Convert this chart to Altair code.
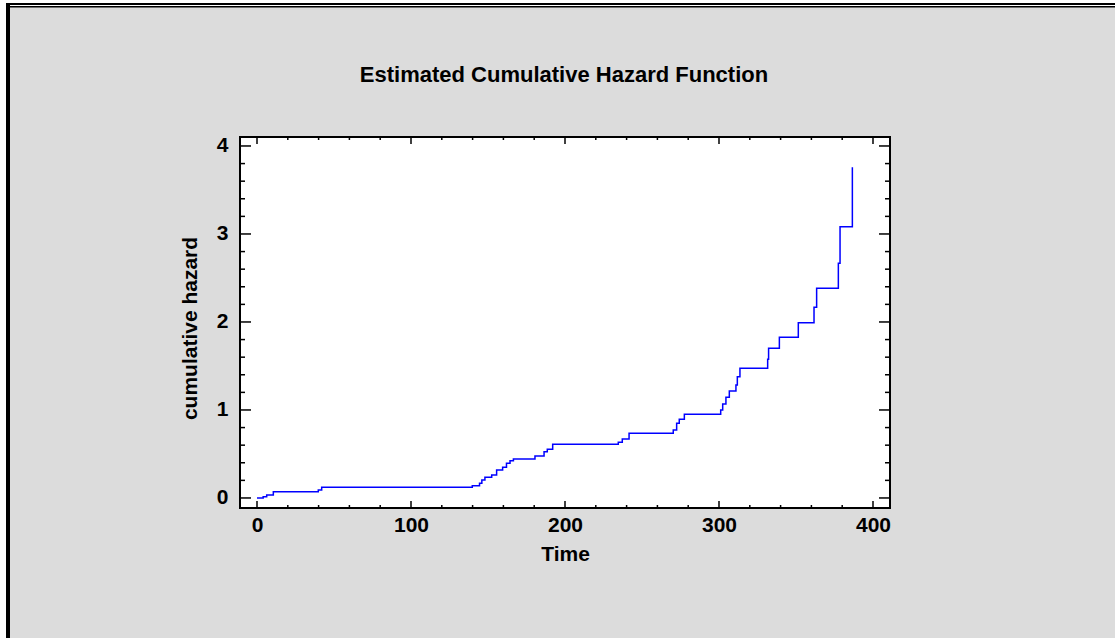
import altair as alt
import pandas as pd

# step-function data
time = [0, 4, 6.3, 10.6, 39.8, 42, 139.8, 144.5, 146, 148, 152.4, 155.6, 159.5, 162,
        164.3, 166.5, 180.5, 186.4, 188.5, 192, 234.6, 237.2, 241.6, 270.3, 272.5,
        274.2, 277.5, 301.1, 302.4, 304.5, 306.7, 311, 311.9, 313.6, 331.6, 332.2,
        339.2, 351.5, 361.7, 363.4, 377.5, 378.6, 386.6]
hazard = [0.0, 0.015, 0.034, 0.072, 0.091, 0.122, 0.14, 0.167, 0.205, 0.235, 0.261,
          0.318, 0.349, 0.394, 0.424, 0.443, 0.477, 0.526, 0.553, 0.61, 0.633, 0.67,
          0.735, 0.773, 0.849, 0.894, 0.951, 1.0, 1.068, 1.144, 1.216, 1.284, 1.378,
          1.474, 1.576, 1.701, 1.826, 1.992, 2.167, 2.383, 2.667, 3.083, 3.758]

x_major = [0, 100, 200, 300, 400]
x_minor = [v for v in range(20, 400, 20) if v % 100 != 0]
y_major = [0, 1, 2, 3, 4]
y_minor = [round(i * 0.2, 1) for i in range(1, 21) if i % 5 != 0]

TITLE = "Estimated Cumulative Hazard Function"

W, H = 650, 371
PL, PT = 240, 137
FONT = "Liberation Sans"
FS = 21

xs = alt.Scale(domain=[-11.04, 411.04], nice=False, zero=False)
ys = alt.Scale(domain=[-0.114, 4.102], nice=False, zero=False)

xaxis = alt.Axis(
    values=x_major, format="d", title="Time", ticks=False, domain=False, grid=False,
    labelFont=FONT, labelFontSize=FS, labelFontWeight="bold", labelColor="black",
    labelPadding=6, titleFont=FONT, titleFontSize=FS, titleFontWeight="bold",
    titleColor="black", titleBaseline="alphabetic", titleY=52)
yaxis = alt.Axis(
    values=y_major, format="d", title="cumulative hazard", ticks=False, domain=False,
    grid=False, labelFont=FONT, labelFontSize=FS, labelFontWeight="bold",
    labelColor="black", labelPadding=12, titleFont=FONT, titleFontSize=FS,
    titleFontWeight="bold", titleColor="black", titleBaseline="alphabetic",
    titleX=-44, titleY=191, titleAngle=-90, titleAlign="center")

df = pd.DataFrame({"t": time, "h": hazard})

line = alt.Chart(df).mark_line(color="#0000ff", strokeWidth=1.5, interpolate="step-after").encode(
    x=alt.X("t:Q", scale=xs, axis=xaxis),
    y=alt.Y("h:Q", scale=ys, axis=yaxis),
)

def xticks(vals, length):
    d = pd.DataFrame({"t": vals})
    bottom = alt.Chart(d).mark_rule(color="black", strokeWidth=1.5).encode(
        x=alt.X("t:Q", scale=xs, axis=xaxis), y=alt.value(H), y2=alt.value(H - length))
    top = alt.Chart(d).mark_rule(color="black", strokeWidth=1.5).encode(
        x=alt.X("t:Q", scale=xs, axis=xaxis), y=alt.value(0), y2=alt.value(length))
    return [bottom, top]

def yticks(vals, length):
    d = pd.DataFrame({"h": vals})
    left = alt.Chart(d).mark_rule(color="black", strokeWidth=1.5).encode(
        y=alt.Y("h:Q", scale=ys, axis=yaxis), x=alt.value(0), x2=alt.value(length))
    right = alt.Chart(d).mark_rule(color="black", strokeWidth=1.5).encode(
        y=alt.Y("h:Q", scale=ys, axis=yaxis), x=alt.value(W), x2=alt.value(W - length))
    return [left, right]

one = pd.DataFrame({"a": [0]})

def box(x1, x2, y1, y2, color):
    return alt.Chart(one).mark_rect(color=color).encode(
        x=alt.value(x1 - PL), x2=alt.value(x2 - PL),
        y=alt.value(y1 - PT), y2=alt.value(y2 - PT))

decor = [
    box(0, 6, 0, 638, "white"),
    box(0, 1115, 0, 3, "white"),
    box(10, 1115, 5, 6, "white"),
    box(6, 10, 3, 638, "black"),
    box(6, 1115, 3, 5, "black"),
    box(10, 1115, 6, 7.5, "black"),
]

title = alt.Chart(pd.DataFrame({"s": [TITLE]})).mark_text(
    font=FONT, fontSize=22, fontWeight="bold", color="black", align="center",
    baseline="alphabetic").encode(
    text="s:N", x=alt.value(564 - PL), y=alt.value(82 - PT))

layers = [line] + xticks(x_major, 7) + xticks(x_minor, 3) + yticks(y_major, 11) + yticks(y_minor, 5) + decor + [title]

chart = alt.layer(*layers).properties(
    width=W, height=H,
    autosize=alt.AutoSizeParams(type="none"),
    padding={"left": PL, "top": PT, "right": 1115 - PL - W, "bottom": 638 - PT - H},
    background="#dcdcdc",
).configure_view(fill="white", stroke="black", strokeWidth=2)

chart.save("out.html", embed_options={"renderer": "svg", "actions": False})
